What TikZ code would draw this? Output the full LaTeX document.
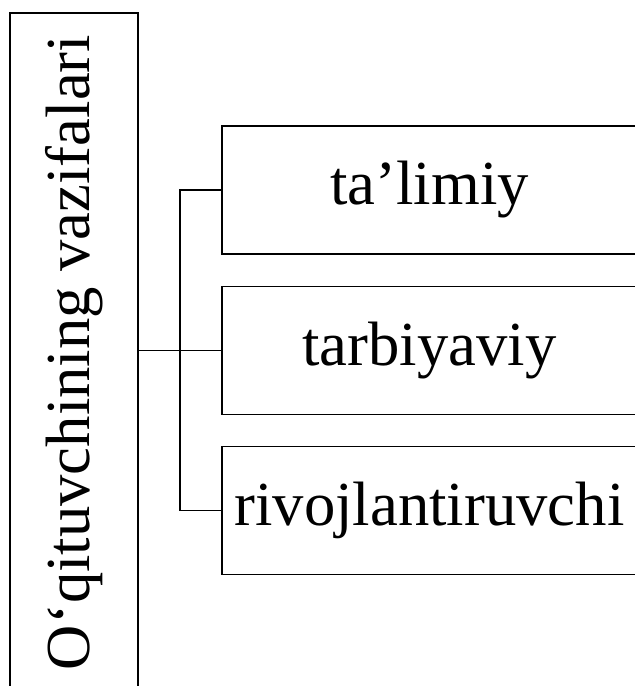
\documentclass[tikz,border=0pt]{standalone}
\usepackage{fontspec}
\setmainfont{Liberation Serif}
\begin{document}
\begin{tikzpicture}[x=0.75pt,y=-0.75pt,
  every node/.style={inner sep=0pt,outer sep=0pt},
  box/.style={draw,line width=1.2pt,font=\fontsize{47}{56}\selectfont},
  conn/.style={line width=1.2pt}]
\useasboundingbox (0,0) rectangle (635,686);
\node[box,rotate=90,minimum width=509pt,minimum height=96pt] (L) at (74,352.5) {O‘qituvchining vazifalari};
\node[box,minimum width=311.25pt,minimum height=96pt] (b1) at (429.5,190) {ta’limiy};
\node[box,minimum width=311.25pt,minimum height=96pt] (b2) at (429.5,350.5) {tarbiyaviy};
\node[box,minimum width=311.25pt,minimum height=96pt] (b3) at (429.5,510.5) {rivojlantiruvchi};
\coordinate (j) at (180,350.5);
\draw[conn] (L.south |- b2.west) -- (b2.west);
\draw[conn] (b1.west) -| (j) |- (b3.west);
\end{tikzpicture}
\end{document}
